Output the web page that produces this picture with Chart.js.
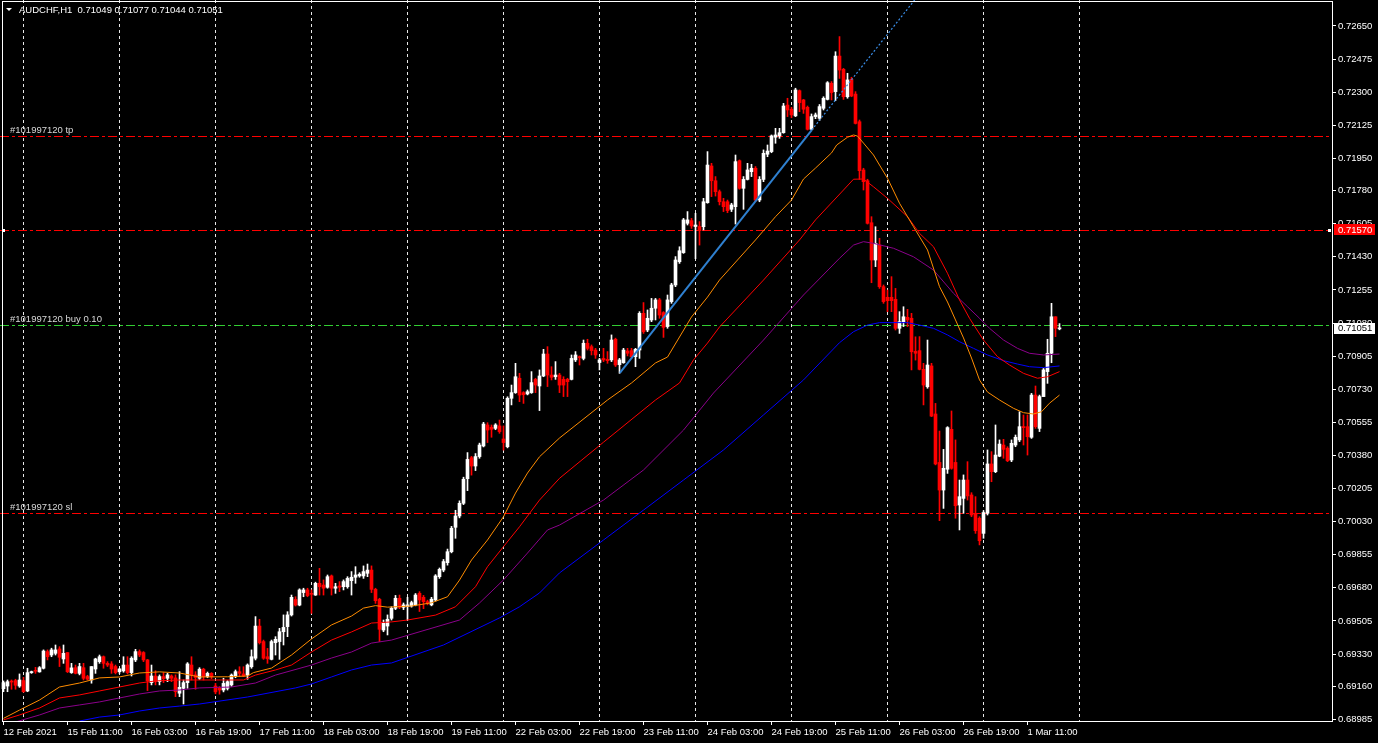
<!DOCTYPE html>
<html>
<head>
<meta charset="utf-8">
<title>AUDCHF,H1</title>
<script src="https://cdn.jsdelivr.net/npm/chart.js@4.4.1/dist/chart.umd.min.js"></script>
<style>
  html, body { margin: 0; padding: 0; background: #000; overflow: hidden; }
  canvas { display: block; }
</style>
</head>
<body>
<canvas id="chart" width="1378" height="743"></canvas>
<script>
// AUDCHF H1 candles, first bar 12 Feb 2021 19:00, last bar 1 Mar 2021 19:00
const opens = [
  0.69147,0.69161,0.69186,0.69190,0.69161,0.69190,0.69135,0.69232,0.69243,0.69236,
  0.69255,0.69343,0.69325,0.69334,0.69357,0.69304,0.69338,0.69232,0.69258,0.69228,
  0.69258,0.69211,0.69193,0.69251,0.69290,0.69316,0.69281,0.69278,0.69264,0.69237,
  0.69241,0.69272,0.69232,0.69299,0.69343,0.69338,0.69299,0.69179,0.69214,0.69184,
  0.69211,0.69202,0.69214,0.69204,0.69123,0.69149,0.69179,0.69272,0.69220,0.69202,
  0.69250,0.69211,0.69228,0.69161,0.69150,0.69140,0.69149,0.69167,0.69211,0.69237,
  0.69225,0.69219,0.69263,0.69308,0.69478,0.69396,0.69316,0.69302,0.69390,0.69396,
  0.69448,0.69475,0.69537,0.69619,0.69589,0.69655,0.69669,0.69651,0.69642,0.69704,
  0.69695,0.69683,0.69743,0.69678,0.69690,0.69686,0.69686,0.69718,0.69736,0.69743,
  0.69743,0.69757,0.69774,0.69672,0.69619,0.69457,0.69478,0.69519,0.69572,0.69625,
  0.69577,0.69581,0.69584,0.69590,0.69651,0.69630,0.69607,0.69590,0.69616,0.69739,
  0.69774,0.69813,0.69871,0.70000,0.70060,0.70127,0.70257,0.70368,0.70324,0.70374,
  0.70430,0.70541,0.70529,0.70523,0.70536,0.70467,0.70426,0.70682,0.70712,0.70788,
  0.70712,0.70705,0.70712,0.70782,0.70747,0.70800,0.70916,0.70805,0.70796,0.70805,
  0.70782,0.70782,0.70782,0.70885,0.70902,0.70893,0.70973,0.70955,0.70937,0.70871,
  0.70893,0.70888,0.70885,0.70994,0.70860,0.70870,0.70932,0.70934,0.70902,0.70937,
  0.71131,0.71043,0.71096,0.71158,0.71202,0.71135,0.71061,0.71193,0.71281,0.71404,
  0.71452,0.71607,0.71621,0.71590,0.71590,0.71589,0.71716,0.71910,0.71832,0.71774,
  0.71721,0.71721,0.71681,0.71695,0.71938,0.71792,0.71839,0.71880,0.71898,0.71730,
  0.71839,0.71972,0.71986,0.72062,0.72069,0.72086,0.72232,0.72210,0.72175,0.72308,
  0.72259,0.72220,0.72104,0.72171,0.72162,0.72215,0.72262,0.72347,0.72303,0.72491,
  0.72421,0.72276,0.72368,0.72290,0.72144,0.71889,0.71832,0.71610,0.71413,0.71492,
  0.71272,0.71216,0.71216,0.71205,0.71052,0.71087,0.71110,0.71105,0.70930,0.70934,
  0.70835,0.70743,0.70853,0.70599,0.70343,0.70197,0.70307,0.70518,0.70343,0.70118,
  0.70153,0.70250,0.70171,0.70074,0.70048,0.69968,0.70074,0.70335,0.70294,0.70376,
  0.70435,0.70418,0.70356,0.70435,0.70462,0.70532,0.70532,0.70476,0.70699,0.70523,
  0.70691,0.70823,0.70920,0.71113,0.71049
];
const highs = [
  0.69188,0.69193,0.69193,0.69197,0.69225,0.69207,0.69255,0.69240,0.69260,0.69264,
  0.69352,0.69352,0.69361,0.69378,0.69369,0.69378,0.69338,0.69281,0.69272,0.69281,
  0.69281,0.69218,0.69264,0.69308,0.69325,0.69320,0.69290,0.69290,0.69272,0.69255,
  0.69316,0.69316,0.69316,0.69355,0.69352,0.69343,0.69302,0.69272,0.69242,0.69220,
  0.69232,0.69228,0.69220,0.69220,0.69237,0.69193,0.69285,0.69316,0.69237,0.69258,
  0.69255,0.69235,0.69232,0.69175,0.69158,0.69202,0.69190,0.69225,0.69246,0.69263,
  0.69263,0.69278,0.69352,0.69528,0.69514,0.69404,0.69360,0.69404,0.69422,0.69466,
  0.69537,0.69554,0.69642,0.69633,0.69675,0.69678,0.69678,0.69669,0.69710,0.69783,
  0.69722,0.69748,0.69748,0.69704,0.69713,0.69722,0.69739,0.69766,0.69792,0.69760,
  0.69796,0.69806,0.69796,0.69678,0.69625,0.69510,0.69537,0.69580,0.69640,0.69642,
  0.69600,0.69630,0.69610,0.69650,0.69660,0.69640,0.69615,0.69630,0.69750,0.69785,
  0.69830,0.69885,0.70005,0.70090,0.70140,0.70265,0.70395,0.70375,0.70390,0.70445,
  0.70555,0.70553,0.70541,0.70548,0.70567,0.70536,0.70690,0.70752,0.70867,0.70814,
  0.70717,0.70726,0.70823,0.70788,0.70832,0.70941,0.70955,0.70849,0.70876,0.70814,
  0.70796,0.70788,0.70911,0.70929,0.70906,0.70990,0.70994,0.70964,0.70946,0.70893,
  0.70946,0.70929,0.71017,0.71000,0.70893,0.70946,0.70946,0.70946,0.70946,0.71140,
  0.71188,0.71149,0.71210,0.71210,0.71210,0.71140,0.71228,0.71290,0.71431,0.71483,
  0.71633,0.71669,0.71633,0.71660,0.71616,0.71739,0.71986,0.71924,0.71854,0.71783,
  0.71739,0.71730,0.71713,0.71968,0.71942,0.71854,0.71924,0.71919,0.71907,0.71854,
  0.71995,0.72021,0.72074,0.72109,0.72109,0.72241,0.72268,0.72220,0.72321,0.72312,
  0.72262,0.72227,0.72185,0.72190,0.72235,0.72276,0.72356,0.72356,0.72514,0.72594,
  0.72426,0.72400,0.72379,0.72303,0.72153,0.71898,0.71840,0.71642,0.71589,0.71528,
  0.71281,0.71254,0.71325,0.71263,0.71140,0.71166,0.71152,0.71131,0.71007,0.71008,
  0.70867,0.70990,0.70867,0.70655,0.70509,0.70412,0.70532,0.70615,0.70462,0.70250,
  0.70277,0.70347,0.70183,0.70162,0.70056,0.70088,0.70409,0.70400,0.70541,0.70462,
  0.70465,0.70426,0.70462,0.70488,0.70611,0.70594,0.70594,0.70708,0.70747,0.70699,
  0.70840,0.70994,0.71184,0.71113,0.71077
];
const lows = [
  0.69131,0.69131,0.69144,0.69144,0.69154,0.69128,0.69131,0.69228,0.69228,0.69234,
  0.69251,0.69299,0.69316,0.69325,0.69264,0.69281,0.69232,0.69228,0.69225,0.69220,
  0.69193,0.69193,0.69176,0.69228,0.69281,0.69255,0.69264,0.69228,0.69225,0.69228,
  0.69234,0.69225,0.69214,0.69290,0.69316,0.69290,0.69137,0.69167,0.69167,0.69167,
  0.69179,0.69184,0.69184,0.69105,0.69105,0.69066,0.69149,0.69193,0.69144,0.69195,
  0.69193,0.69205,0.69200,0.69120,0.69118,0.69130,0.69140,0.69160,0.69205,0.69211,
  0.69211,0.69197,0.69255,0.69299,0.69383,0.69302,0.69281,0.69299,0.69325,0.69302,
  0.69378,0.69422,0.69531,0.69584,0.69585,0.69633,0.69633,0.69545,0.69640,0.69642,
  0.69642,0.69678,0.69642,0.69651,0.69660,0.69669,0.69678,0.69642,0.69704,0.69736,
  0.69730,0.69739,0.69655,0.69598,0.69396,0.69448,0.69431,0.69510,0.69565,0.69570,
  0.69565,0.69510,0.69578,0.69585,0.69555,0.69570,0.69590,0.69585,0.69610,0.69730,
  0.69765,0.69800,0.69865,0.69942,0.70050,0.70120,0.70194,0.70276,0.70300,0.70365,
  0.70425,0.70448,0.70476,0.70516,0.70497,0.70408,0.70420,0.70647,0.70708,0.70664,
  0.70655,0.70700,0.70708,0.70712,0.70617,0.70796,0.70744,0.70779,0.70782,0.70712,
  0.70691,0.70691,0.70779,0.70876,0.70858,0.70885,0.70937,0.70911,0.70893,0.70832,
  0.70876,0.70867,0.70876,0.70850,0.70814,0.70867,0.70906,0.70893,0.70849,0.70893,
  0.71025,0.71034,0.71087,0.71096,0.71105,0.71004,0.71052,0.71184,0.71272,0.71395,
  0.71448,0.71598,0.71580,0.71420,0.71492,0.71572,0.71713,0.71748,0.71751,0.71704,
  0.71669,0.71663,0.71669,0.71603,0.71787,0.71681,0.71836,0.71854,0.71721,0.71721,
  0.71827,0.71959,0.71980,0.72030,0.72056,0.72083,0.72171,0.72165,0.72171,0.72197,
  0.72188,0.72100,0.72100,0.72160,0.72150,0.72206,0.72259,0.72259,0.72255,0.72373,
  0.72262,0.72268,0.72276,0.72132,0.71839,0.71783,0.71603,0.71293,0.71378,0.71263,
  0.71184,0.71140,0.71140,0.71043,0.71025,0.71061,0.71061,0.70832,0.70884,0.70832,
  0.70647,0.70735,0.70585,0.70330,0.70035,0.70100,0.70285,0.70307,0.70048,0.69986,
  0.70074,0.70144,0.70056,0.69968,0.69907,0.69942,0.70065,0.70241,0.70289,0.70373,
  0.70365,0.70347,0.70347,0.70426,0.70453,0.70435,0.70382,0.70470,0.70523,0.70506,
  0.70691,0.70761,0.70870,0.71008,0.71044
];
const closes = [
  0.69179,0.69184,0.69182,0.69165,0.69193,0.69131,0.69232,0.69235,0.69239,0.69258,
  0.69346,0.69316,0.69352,0.69352,0.69313,0.69334,0.69237,0.69257,0.69228,0.69264,
  0.69202,0.69197,0.69264,0.69304,0.69316,0.69281,0.69272,0.69251,0.69232,0.69251,
  0.69272,0.69232,0.69308,0.69343,0.69325,0.69299,0.69188,0.69214,0.69184,0.69211,
  0.69200,0.69220,0.69202,0.69131,0.69154,0.69179,0.69278,0.69220,0.69206,0.69250,
  0.69211,0.69228,0.69210,0.69130,0.69140,0.69175,0.69184,0.69219,0.69237,0.69228,
  0.69214,0.69272,0.69316,0.69478,0.69390,0.69308,0.69305,0.69396,0.69408,0.69448,
  0.69471,0.69537,0.69630,0.69589,0.69669,0.69669,0.69639,0.69646,0.69704,0.69686,
  0.69678,0.69739,0.69678,0.69686,0.69683,0.69713,0.69730,0.69736,0.69748,0.69752,
  0.69766,0.69774,0.69672,0.69612,0.69461,0.69493,0.69514,0.69572,0.69625,0.69577,
  0.69590,0.69590,0.69602,0.69642,0.69616,0.69607,0.69598,0.69620,0.69743,0.69778,
  0.69819,0.69871,0.69995,0.70060,0.70127,0.70254,0.70359,0.70324,0.70374,0.70435,
  0.70546,0.70514,0.70518,0.70541,0.70506,0.70448,0.70682,0.70712,0.70796,0.70699,
  0.70701,0.70717,0.70765,0.70752,0.70800,0.70916,0.70805,0.70793,0.70805,0.70752,
  0.70752,0.70770,0.70893,0.70911,0.70897,0.70973,0.70946,0.70934,0.70911,0.70885,
  0.70885,0.70881,0.70990,0.70858,0.70885,0.70937,0.70920,0.70902,0.70941,0.71131,
  0.71034,0.71105,0.71158,0.71202,0.71122,0.71057,0.71202,0.71281,0.71413,0.71462,
  0.71625,0.71625,0.71593,0.71598,0.71568,0.71721,0.71915,0.71832,0.71774,0.71721,
  0.71695,0.71674,0.71704,0.71933,0.71792,0.71839,0.71889,0.71898,0.71730,0.71839,
  0.71977,0.71989,0.72069,0.72074,0.72086,0.72227,0.72206,0.72180,0.72312,0.72245,
  0.72210,0.72104,0.72171,0.72180,0.72224,0.72268,0.72350,0.72298,0.72491,0.72417,
  0.72276,0.72365,0.72280,0.72135,0.71885,0.71827,0.71607,0.71413,0.71501,0.71272,
  0.71193,0.71198,0.71198,0.71052,0.71087,0.71113,0.71096,0.70928,0.70920,0.70835,
  0.70752,0.70858,0.70588,0.70335,0.70197,0.70312,0.70527,0.70312,0.70114,0.70162,
  0.70250,0.70166,0.70065,0.69982,0.69929,0.70078,0.70335,0.70294,0.70382,0.70440,
  0.70412,0.70352,0.70444,0.70476,0.70532,0.70527,0.70479,0.70699,0.70532,0.70691,
  0.70832,0.70920,0.71113,0.71052,0.71051
];

// time axis: one label every 16 bars
const labelBars = [0, 16, 32, 48, 64, 80, 96, 112, 128, 144, 160, 176, 192, 208, 224, 240, 256];
const timeLabels = ['12 Feb 2021', '15 Feb 11:00', '16 Feb 03:00', '16 Feb 19:00', '17 Feb 11:00',
  '18 Feb 03:00', '18 Feb 19:00', '19 Feb 11:00', '22 Feb 03:00', '22 Feb 19:00', '23 Feb 11:00',
  '24 Feb 03:00', '24 Feb 19:00', '25 Feb 11:00', '26 Feb 03:00', '26 Feb 19:00', '1 Mar 11:00'];
// dotted vertical grid, every 24 bars
const gridBars = [5, 29, 53, 77, 101, 125, 149, 173, 197, 221, 245, 269];
const priceTicks = [0.72650, 0.72475, 0.72300, 0.72125, 0.71950, 0.71780, 0.71605, 0.71430, 0.71255,
  0.71080, 0.70905, 0.70730, 0.70555, 0.70380, 0.70205, 0.70030, 0.69855, 0.69680, 0.69505,
  0.69330, 0.69160, 0.68985];

// moving averages: [bar, price]
const maOrange = [[0,0.68990],[4,0.69034],[9,0.69087],[14,0.69156],[19,0.69177],[24,0.69204],[29,0.69209],
  [34,0.69230],[39,0.69236],[44,0.69230],[49,0.69209],[56,0.69210],[61,0.69214],[62.5,0.69232],[67,0.69256],
  [72,0.69325],[77,0.69410],[82,0.69484],[87,0.69531],[90,0.69573],[93,0.69586],[96,0.69578],[102,0.69584],
  [107,0.69601],[111,0.69633],[114,0.69721],[117,0.69827],[121,0.69933],[125,0.70056],[128,0.70181],
  [131,0.70287],[134,0.70373],[139,0.70472],[151,0.70673],[157,0.70763],[163,0.70869],[166,0.70900],
  [169,0.71006],[172,0.71112],[176,0.71217],[179,0.71307],[188,0.71519],[193,0.71642],[197,0.71730],
  [200,0.71841],[203,0.71899],[207,0.71979],[208.3,0.72021],[211,0.72062],[212.5,0.72074],[213.5,0.72068],
  [215,0.72031],[217.5,0.71968],[219,0.71915],[221,0.71845],[224,0.71713],[227.5,0.71589],[231,0.71466],
  [234,0.71272],[236,0.71191],[238,0.71096],[240,0.71001],[242,0.70895],[244,0.70779],[246,0.70715],
  [249,0.70673],[252.5,0.70629],[255,0.70606],[257.5,0.70599],[259.5,0.70611],[261.5,0.70656],[264,0.70699]];
const maRed = [[0,0.68982],[4,0.69008],[9,0.69045],[14,0.69098],[19,0.69114],[24,0.69135],[29,0.69156],
  [34,0.69177],[38,0.69188],[44,0.69193],[60,0.69193],[63,0.69219],[68,0.69246],[72,0.69272],[77,0.69341],
  [82,0.69404],[87,0.69447],[92,0.69494],[97,0.69500],[101,0.69510],[108,0.69536],[113,0.69580],[118,0.69686],
  [121,0.69792],[125,0.69898],[129,0.70003],[134,0.70144],[139,0.70259],[150,0.70450],[163,0.70673],
  [169,0.70763],[172.5,0.70885],[176,0.70974],[179,0.71059],[190,0.71307],[199,0.71519],[203,0.71625],
  [206.5,0.71704],[210,0.71783],[212.5,0.71840],[215,0.71841],[217.5,0.71800],[221,0.71739],[226,0.71642],
  [229,0.71554],[232.5,0.71483],[236,0.71343],[239,0.71202],[241.5,0.71105],[245,0.70990],[248.5,0.70902],
  [251.5,0.70858],[255,0.70814],[258.5,0.70788],[261,0.70796],[264,0.70823]];
const maPurple = [[3,0.68971],[9,0.69008],[14,0.69045],[19,0.69061],[24,0.69077],[29,0.69098],[34,0.69119],
  [39,0.69135],[44,0.69140],[49,0.69151],[57,0.69156],[63,0.69177],[68,0.69219],[77,0.69272],[82,0.69309],
  [87,0.69341],[92,0.69388],[97,0.69404],[114,0.69510],[119,0.69600],[125,0.69722],[131,0.69864],
  [136,0.69986],[139,0.70012],[150,0.70144],[160,0.70303],[170,0.70514],[177.5,0.70710],[190,0.70990],
  [200,0.71228],[209,0.71422],[212.5,0.71492],[215,0.71510],[217.5,0.71501],[222.5,0.71475],[227.5,0.71430],
  [232.5,0.71360],[237.5,0.71237],[241,0.71166],[244,0.71105],[246.5,0.71052],[250,0.70990],[253.5,0.70946],
  [256.5,0.70920],[260,0.70911],[264,0.70916]];
const maBlue = [[19,0.68976],[24,0.68997],[29,0.69008],[34,0.69029],[39,0.69045],[44,0.69055],[49,0.69066],
  [61,0.69103],[73,0.69151],[77,0.69172],[82,0.69209],[87,0.69246],[92,0.69272],[97,0.69283],[110,0.69378],
  [124,0.69521],[129,0.69580],[134,0.69653],[139,0.69759],[150,0.69933],[160,0.70091],[170,0.70250],
  [180,0.70409],[190,0.70594],[200,0.70779],[209,0.70976],[212.5,0.71034],[216,0.71069],[219,0.71082],
  [226,0.71082],[229,0.71069],[232.5,0.71052],[236,0.71017],[239,0.70981],[242.5,0.70946],[246,0.70911],
  [250,0.70881],[253.5,0.70863],[256.5,0.70849],[260,0.70844],[264,0.70853]];

// trend line and its ray
const trendLine = [[154.1, 0.70817], [202.05, 0.72100]];
const trendRay = [[202.05, 0.72100], [232, 0.72900]];

// order lines
const orderLines = [
  { price: 0.72068, color: '#ff0000', label: '#101997120 tp' },
  { price: 0.71570, color: '#ff0000', label: '' },
  { price: 0.71069, color: '#32cd32', label: '#101997120 buy 0.10' },
  { price: 0.70076, color: '#ff0000', label: '#101997120 sl' }
];
const alertPrice = 0.71570;
const bidPrice = 0.71051;
const header = 'AUDCHF,H1  0.71049 0.71077 0.71044 0.71051';

const FONT = '"Liberation Sans", Arial, sans-serif';
Chart.defaults.font.family = FONT;
Chart.defaults.font.size = 9.5;

const toXY = arr => arr.map(([x, y]) => ({ x, y }));
const candleColor = ctx => closes[ctx.dataIndex] >= opens[ctx.dataIndex] ? '#ffffff' : '#ff0000';

const wickData = opens.map((o, i) => ({ x: i, y: [lows[i], highs[i]] }));
const bodyData = opens.map((o, i) => ({ x: i, y: [o, closes[i]] }));

const mt4Plugin = {
  id: 'mt4',
  beforeDraw(chart) {
    const ctx = chart.ctx;
    ctx.save();
    ctx.fillStyle = '#000';
    ctx.fillRect(0, 0, chart.width, chart.height);
    ctx.restore();
  },
  beforeDatasetsDraw(chart) {
    const { ctx, chartArea: a, scales: { x, y } } = chart;
    ctx.save();
    ctx.lineWidth = 1;
    // vertical grid
    ctx.strokeStyle = '#e8e8e8';
    ctx.setLineDash([3, 3]);
    gridBars.forEach(b => {
      const px = Math.floor(x.getPixelForValue(b)) + 0.5;
      ctx.beginPath(); ctx.moveTo(px, a.top); ctx.lineTo(px, a.bottom); ctx.stroke();
    });
    // order lines
    ctx.setLineDash([9, 3, 3, 3]);
    ctx.font = '9.5px ' + FONT;
    ctx.textBaseline = 'bottom';
    orderLines.forEach(l => {
      const py = Math.round(y.getPixelForValue(l.price)) + 0.5;
      ctx.strokeStyle = l.color;
      ctx.beginPath(); ctx.moveTo(a.left, py); ctx.lineTo(a.right, py); ctx.stroke();
      if (l.label) {
        ctx.fillStyle = '#d8d8d8';
        ctx.fillText(l.label, 10, py - 1);
      }
    });
    ctx.restore();
  },
  afterDraw(chart) {
    const { ctx, chartArea: a, scales: { y } } = chart;
    ctx.save();
    // frame
    ctx.strokeStyle = '#ffffff';
    ctx.lineWidth = 1;
    ctx.setLineDash([]);
    ctx.strokeRect(2.5, 1.5, a.right - 2, a.bottom - 1);
    // header
    ctx.fillStyle = '#ffffff';
    ctx.beginPath(); ctx.moveTo(6, 8); ctx.lineTo(12, 8); ctx.lineTo(9, 11); ctx.closePath(); ctx.fill();
    ctx.font = '9.5px ' + FONT;
    ctx.textBaseline = 'middle';
    ctx.fillText(header, 19, 10);
    // alert line price box
    const ay = Math.round(y.getPixelForValue(alertPrice));
    ctx.fillStyle = '#ff0000';
    ctx.fillRect(a.right + 2, ay - 6, 41, 11);
    ctx.fillStyle = '#ffffff';
    ctx.fillText(alertPrice.toFixed(5), a.right + 6, ay);
    ctx.fillRect(a.right - 4, ay - 1, 3, 3);
    ctx.fillRect(2, ay - 1, 3, 3);
    // bid price box
    const by = Math.round(y.getPixelForValue(bidPrice));
    ctx.fillStyle = '#ffffff';
    ctx.fillRect(a.right + 2, by - 5, 41, 11);
    ctx.fillStyle = '#000000';
    ctx.fillText(bidPrice.toFixed(5), a.right + 6, by + 0.5);
    ctx.restore();
  }
};

new Chart(document.getElementById('chart'), {
  type: 'bar',
  data: {
    datasets: [
      { type: 'line', data: toXY(trendLine), borderColor: '#2f80d0', borderWidth: 2, pointRadius: 0, order: 0 },
      { type: 'line', data: toXY(trendRay), borderColor: '#3a8ee8', borderWidth: 1.2, borderDash: [2, 2], pointRadius: 0, order: 0 },
      { type: 'line', data: toXY(maOrange), borderColor: '#ff8c00', borderWidth: 1, pointRadius: 0, order: 1 },
      { type: 'line', data: toXY(maRed), borderColor: '#ff0000', borderWidth: 1, pointRadius: 0, order: 1 },
      { type: 'line', data: toXY(maPurple), borderColor: '#8b008b', borderWidth: 1, pointRadius: 0, order: 1 },
      { type: 'line', data: toXY(maBlue), borderColor: '#0000ff', borderWidth: 1, pointRadius: 0, order: 1 },
      { type: 'bar', data: bodyData, backgroundColor: candleColor, barThickness: 3, grouped: false, minBarLength: 1, order: 4 },
      { type: 'bar', data: wickData, backgroundColor: candleColor, barThickness: 1, grouped: false, minBarLength: 1, order: 5 }
    ]
  },
  options: {
    responsive: false,
    animation: false,
    events: [],
    layout: { padding: 0 },
    plugins: { legend: { display: false }, tooltip: { enabled: false } },
    scales: {
      x: {
        type: 'linear',
        offset: false,
        min: -0.875,
        max: 332.125,
        afterBuildTicks: s => { s.ticks = labelBars.map(v => ({ value: v })); },
        afterFit: s => { s.height = 22; s.paddingLeft = 0; s.paddingRight = 0; },
        grid: { drawOnChartArea: false, color: '#ffffff', tickLength: 4, offset: false },
        border: { display: false },
        ticks: {
          color: '#ffffff', autoSkip: false, maxRotation: 0, minRotation: 0, align: 'start', padding: 2,
          callback: v => timeLabels[labelBars.indexOf(v)]
        }
      },
      y: {
        type: 'linear',
        position: 'right',
        beginAtZero: false,
        min: 0.689762,
        max: 0.727874,
        afterBuildTicks: s => { s.ticks = priceTicks.map(v => ({ value: v })); },
        afterFit: s => { s.width = 46; s.paddingTop = 0; s.paddingBottom = 0; },
        grid: { drawOnChartArea: false, color: '#ffffff', tickLength: 4 },
        border: { display: false },
        ticks: { color: '#ffffff', padding: 2, callback: v => v.toFixed(5) }
      }
    }
  },
  plugins: [mt4Plugin]
});
</script>
</body>
</html>
